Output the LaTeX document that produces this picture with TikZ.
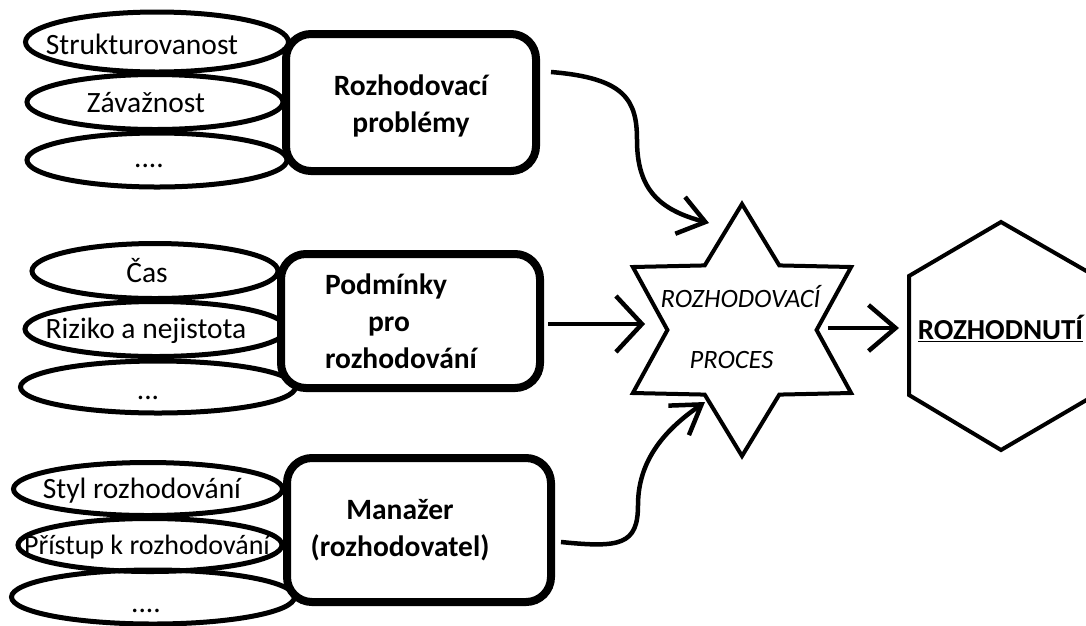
\documentclass[tikz,border=0pt]{standalone}
\usepackage{fontspec}
\setmainfont{Carlito}
\usetikzlibrary{arrows.meta,shapes.geometric,calc}
\begin{document}
\begin{tikzpicture}[x=1pt,y=-1pt,
  ell/.style={draw, ellipse, line width=5pt, inner sep=0pt},
  lab/.style={font=\fontsize{29.5}{34}\selectfont, text height=19pt, text depth=0pt, inner sep=0pt},
  bx/.style={draw, line width=8pt, rounded corners=25pt, fill=white, inner sep=0pt},
  btxt/.style={font=\bfseries\fontsize{29.5}{37}\selectfont, inner sep=0pt},
  st/.style={font=\itshape\fontsize{26.5}{30}\selectfont, text height=17pt, text depth=0pt, inner sep=0pt},
  arr/.style={line width=4.5pt, line join=miter},
]
\fill[white] (0,0) rectangle (1086,625);
\useasboundingbox (0,0) rectangle (1086,625);
\clip (0,0) rectangle (1086,625);

% group 1
\node[ell, minimum width=263pt, minimum height=60pt, label={[lab, xshift=-15pt, yshift=-3pt]center:Strukturovanost}] (e11) at (157,42) {};
\node[ell, minimum width=256pt, minimum height=55pt, label={[lab, xshift=-9pt, yshift=-1pt]center:Závažnost}] (e12) at (155,102) {};
\node[ell, minimum width=260pt, minimum height=54pt, label={[lab, xshift=-8pt, yshift=2pt]center:....}] (e13) at (157,160) {};
% group 2
\node[ell, minimum width=246pt, minimum height=55pt, label={[lab, xshift=-8pt, yshift=-2pt]center:Čas}] (e21) at (155,271) {};
\node[ell, minimum width=262pt, minimum height=55pt, label={[lab, xshift=-10pt]center:Riziko a nejistota}] (e22) at (156,329) {};
\node[ell, minimum width=275pt, minimum height=52pt, label={[lab, xshift=-10pt, yshift=-3pt]center:...}] (e23) at (158,387) {};
% group 3
\node[ell, minimum width=269pt, minimum height=53pt, label={[lab, xshift=-6pt]center:Styl rozhodování}] (e31) at (148,489) {};
\node[ell, minimum width=264pt, minimum height=53pt, label={[lab, font=\fontsize{28}{34}\selectfont, xshift=-3pt]center:Přístup k rozhodování}] (e32) at (150,545) {};
\node[ell, minimum width=283pt, minimum height=54pt, label={[lab, xshift=-7pt, yshift=-6pt]center:....}] (e33) at (153,597) {};

% boxes
\node[bx, minimum width=250pt, minimum height=137pt, label={[btxt, align=center, yshift=-3pt]center:Rozhodovací\\problémy}] (b1) at (411,102.5) {};
\node[bx, minimum width=259pt, minimum height=134pt, label={[btxt, align=left, xshift=-9.5pt]center:Podmínky\\\hspace*{43pt}pro\\rozhodování}] (b2) at (410.5,321) {};
\node[bx, minimum width=264pt, minimum height=144pt, label={[btxt, align=center, xshift=-19pt]center:Manažer\\(rozhodovatel)}] (b3) at (419,530) {};

% star
\node[draw, star, star points=6, star point ratio=1.69, minimum size=252pt, line width=4pt, inner sep=0pt,
  label={[st, xshift=-1.5pt, yshift=31pt]center:ROZHODOVACÍ},
  label={[st, xshift=-10.5pt, yshift=-30pt]center:PROCES}] (proc) at (742,330) {};

% hexagon
\draw[line width=4pt, line join=miter] (1001,222) -- (909,276) -- (909,395) -- (1001,450) -- (1095,395) -- (1095,276) -- cycle;
\node[font=\bfseries\fontsize{29}{34}\selectfont, text height=18.5pt, text depth=0pt, inner sep=0pt] (dec) at (1000.5,330) {\underline{ROZHODNUTÍ}};

% arrow end points
\coordinate (t1) at (709,223);
\coordinate (t2) at (645,324);
\coordinate (t3) at (705,402);
\coordinate (t4) at (899,328);

\draw[arr, -{Straight Barb[length=26pt,width=38pt]}] ($(b1.east)+(11,-30.5)$) .. controls (625,78) and (637,100) .. (637,140) .. controls (637,190) and (660,210) .. (t1);
\draw[arr, -{Straight Barb[length=26pt,width=56pt]}] ($(b2.east)+(4,3)$) -- (t2);
\draw[arr, -{Straight Barb[length=28pt,width=36pt]}] ($(b3.east)+(6,12)$) .. controls (620,548) and (638,545) .. (638,505) .. controls (638,455) and (672,425) .. (t3);
\draw[arr, -{Straight Barb[length=27pt,width=46pt]}] ($(proc.east)+(9,-2)$) -- (t4);
\end{tikzpicture}
\end{document}
